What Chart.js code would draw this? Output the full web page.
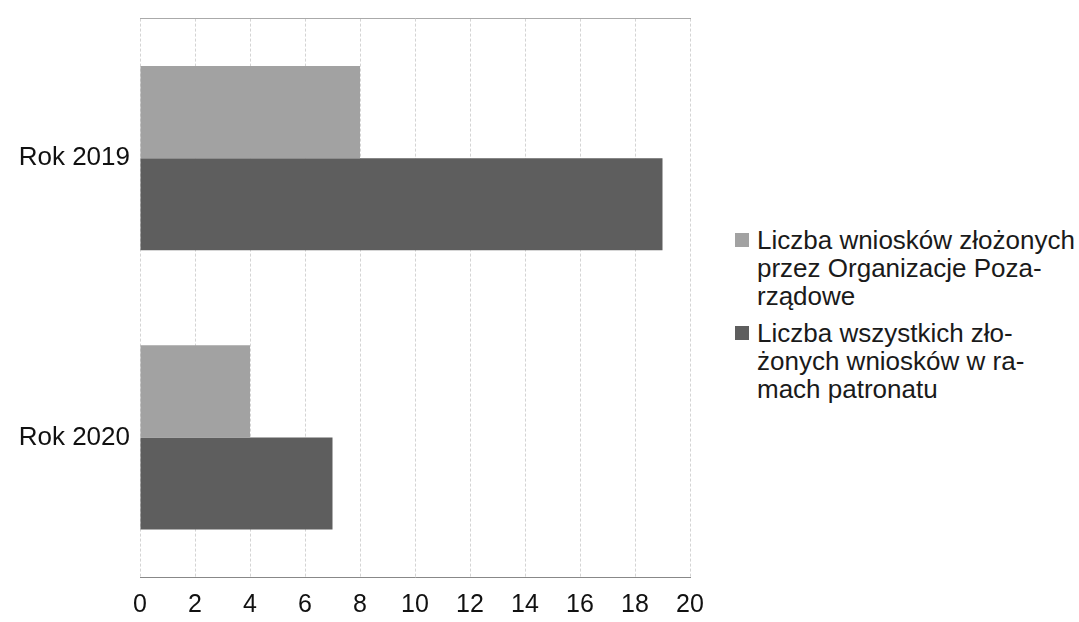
<!DOCTYPE html>
<html>
<head>
<meta charset="utf-8">
<script src="https://cdn.jsdelivr.net/npm/chart.js@4"></script>
<style>
    body { margin: 0; background: #fff; font-family: "Liberation Sans", Arial, sans-serif; overflow: hidden; }
    #wrap { position: relative; width: 1079px; height: 622px; overflow: hidden; }
    #chart-box { position: absolute; left: 0; top: -7px; width: 720px; height: 629px; }
    #legend { position: absolute; left: 735px; top: 226px; width: 344px; color: #1a1a1a; font-size: 26px; line-height: 28px; }
    #legend .item { display: flex; align-items: flex-start; margin-bottom: 9px; }
    #legend .box { width: 14px; height: 14px; margin: 7px 8px 0 0; flex: none; }
</style>
</head>
<body>
<div id="wrap">
    <div id="chart-box"><canvas id="bar-chart"></canvas></div>
    <div id="legend"></div>
</div>
<script>
// --- Data ---
const categories = ['Rok 2019', 'Rok 2020'];
const seriesNames = [
    'Liczba wniosków złożonych przez Organizacje Poza-rządowe',
    'Liczba wszystkich zło-żonych wniosków w ramach patronatu'
];
const ngoValues = [8, 4];
const allValues = [19, 7];
const xTicks = [0, 2, 4, 6, 8, 10, 12, 14, 16, 18, 20];

const colors = ['#a2a2a2', '#5e5e5e'];

document.addEventListener("DOMContentLoaded", function () {
    const ctx = document.getElementById('bar-chart');

    new Chart(ctx.getContext('2d'), {
        type: 'bar',
        data: {
            labels: categories,
            datasets: [
                { label: seriesNames[0], data: ngoValues, backgroundColor: colors[0], borderWidth: 0 },
                { label: seriesNames[1], data: allValues, backgroundColor: colors[1], borderWidth: 0 }
            ]
        },
        options: {
            indexAxis: 'y',
            responsive: true,
            maintainAspectRatio: false,
            animation: false,
            layout: { padding: { top: 0, right: 30, bottom: 0, left: 0 } },
            datasets: { bar: { categoryPercentage: 0.66, barPercentage: 1.0 } },
            plugins: { legend: { display: false }, tooltip: { enabled: false } },
            scales: {
                x: {
                    min: 0, max: 20,
                    afterBuildTicks: s => { s.ticks = xTicks.map(v => ({ value: v })); },
                    afterFit: s => { s.height = 45; },
                    ticks: { color: '#111', font: { family: 'Liberation Sans', size: 25 }, padding: 13 },
                    grid: { color: '#d4d4d4', lineWidth: 1, drawTicks: false },
                    border: { display: true, color: '#888', dash: [3, 2] }
                },
                xTop: {
                    axis: 'x', position: 'top', min: 0, max: 20,
                    afterFit: s => { s.height = 8; },
                    ticks: { display: false },
                    grid: { display: false },
                    border: { display: true, color: '#aaa', dash: [3, 2] }
                },
                y: {
                    afterFit: s => { s.width = 140; },
                    ticks: { color: '#111', font: { family: 'Liberation Sans', size: 26 }, padding: 10 },
                    grid: { display: false, drawTicks: false },
                    border: { display: false }
                }
            }
        }
    });

    // Legenda HTML (teks dibungkus seperti pada gambar)
    const legend = document.getElementById('legend');
    const legendLines = [
        ['Liczba wniosków złożonych', 'przez Organizacje Poza-', 'rządowe'],
        ['Liczba wszystkich zło-', 'żonych wniosków w ra-', 'mach patronatu']
    ];
    legendLines.forEach((lines, i) => {
        const row = `
            <div class="item">
                <span class="box" style="background:${colors[i]}"></span>
                <span>${lines.join('<br>')}</span>
            </div>`;
        legend.insertAdjacentHTML('beforeend', row);
    });
});
</script>
</body>
</html>
